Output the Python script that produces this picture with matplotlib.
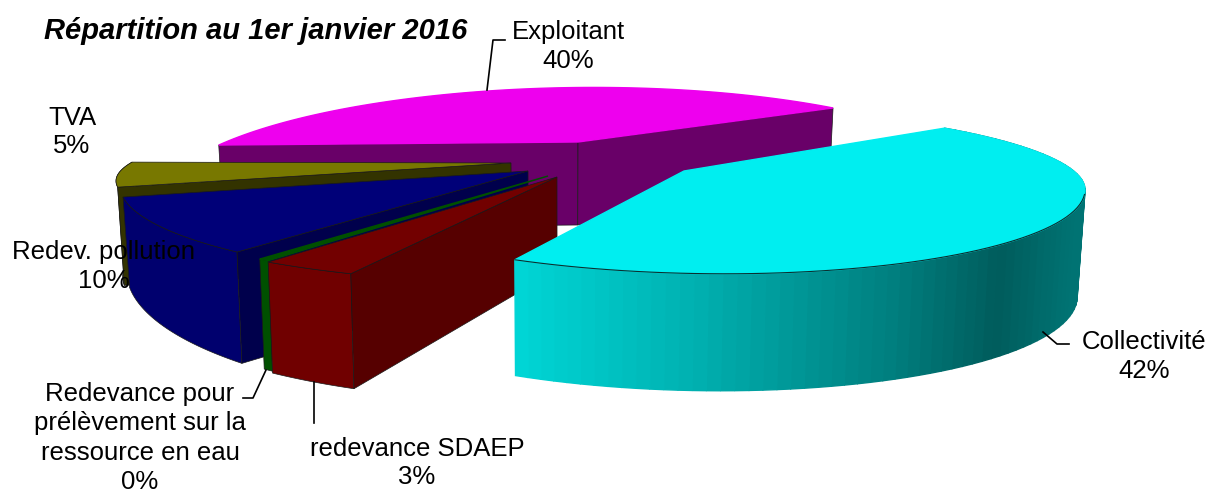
import matplotlib
matplotlib.use('Agg')
import matplotlib.pyplot as plt
import numpy as np

plt.rcParams['font.family'] = ['Liberation Sans', 'DejaVu Sans']

# Shares in clockwise order, drawn back to front further down
names = ['Exploitant', 'Collectivité', 'redevance SDAEP',
         'Redevance pour\nprélèvement sur la\nressource en eau',
         'Redev. pollution', 'TVA']
shares = [40, 42, 3, 0.4, 10, 5]

# Per slice projection of the 3D pie, in pixels
apex = [(578, 142), (684, 171), (557, 177), (548, 176), (528, 171), (511, 163)]
center = [(578, 199.5), (700, 184), (523, 177.5), (530, 177.4), (550, 185.6), (557, 181)]
radius = [(420, 112, 112), (385, 89.6, 77), (430, 105, 105),
          (430, 105, 105), (430, 96.8, 96.8), (441, 70.6, 70.6)]
shear = [-0.01, 0.015, 0, 0, 0, 0]
start_deg = [-148.8, -50.6, 113.6, 127.5, 136.7, 175]
stretch = [0.668, 1.12, 1.18, 1.0, 1.014, 1.14]
depth = [(83, 0, 83), (107, 10, 105), (82, 36, 93), (82, 36, 93), (86, 37, 107), (95, 37, 100)]

top_col = ['#ee00ee', '#00eef0', '#720000', '#005000', '#000078', '#787800']
wall_col = ['#690068', '#00d8d8', '#700000', '#005000', '#00006e', '#555500']
cut_col = ['#690068', None, '#560000', None, '#00004c', '#333300']
edge = '#1a1a1a'

# Shading along the cyan outer wall
shade_x = [515, 700, 800, 900, 1000, 1075]
shade_g = [214, 175, 150, 125, 92, 115]

VANISH_X = 560


def arc(i, n=80):
    a0 = np.radians(start_deg[i])
    a1 = a0 + np.radians(stretch[i] * shares[i] * 3.6)
    phi = np.linspace(a0, a1, n)
    rx, ry_front, ry_back = radius[i]
    x = center[i][0] + rx * np.cos(phi)
    ry = np.where(np.sin(phi) > 0, ry_front, ry_back)
    y = center[i][1] + ry * np.sin(phi) + shear[i] * rx * np.cos(phi)
    return x, y, phi


def lower(i, x, y, phi):
    d0, d1, _ = depth[i]
    return x + (VANISH_X - x) * 0.015, y + d0 + d1 * np.sin(phi)


def lower_apex(i):
    x, y = apex[i]
    return x + (VANISH_X - x) * 0.015, y + depth[i][2]


def quad(ax, pts, color, line=True, z=1):
    ax.fill(*zip(*pts), facecolor=color, edgecolor=edge if line else color,
            linewidth=0.5 if line else 1.0, zorder=z)


fig = plt.figure(figsize=(12.06, 4.94))
ax = fig.add_axes([0, 0, 1, 1])
ax.set_xlim(0, 1206)
ax.set_ylim(494, 0)
ax.axis('off')

# back to front: magenta, olive, blue, green, red, cyan
for z, i in enumerate([0, 5, 4, 3, 2, 1]):
    x, y, phi = arc(i)
    bx, by = lower(i, x, y, phi)
    if i == 1:
        for k in range(len(x) - 1):
            g = np.interp((x[k] + x[k + 1]) / 2, shade_x, shade_g) / 255
            quad(ax, [(x[k], y[k]), (x[k + 1], y[k + 1]), (bx[k + 1], by[k + 1]), (bx[k], by[k])],
                 (0, g, g), line=False, z=z)
    elif i != 0:
        pts = list(zip(x, y)) + list(zip(bx, by))[::-1]
        quad(ax, pts, wall_col[i], z=z)
    if i == 0:
        for k in (0, -1):
            quad(ax, [apex[i], (x[k], y[k]), (bx[k], by[k]), lower_apex(i)], cut_col[i], z=z)
    elif cut_col[i]:
        quad(ax, [apex[i], (x[0], y[0]), (bx[0], by[0]), lower_apex(i)], cut_col[i], z=z)
    quad(ax, [apex[i]] + list(zip(x, y)), top_col[i], line=i in (2, 4, 5), z=z)
    if i == 1:
        ax.plot(x[25:], y[25:], color='#0a3030', lw=0.8, zorder=z)

# Labels
label_pos = [(568, 46.5), (1144, 356.5), (417, 463), (140, 438), (104, 266.5), (72, 132)]
label_space = [1.22, 1.22, 1.22, 1.27, 1.22, 1.22]
for i, (lx, ly) in enumerate(label_pos):
    ax.text(lx, ly, f'{names[i]}\n{round(shares[i])}%', ha='center', va='center',
            fontsize=18.5, linespacing=label_space[i], color='black', zorder=10, clip_on=False)

ax.text(44, 31, 'Répartition au 1er janvier 2016', fontsize=21, fontweight='bold',
        fontstyle='italic', ha='left', va='center', zorder=10)

# Leader lines
leaders = [([487, 493, 505], [90, 40, 40]),
           ([1043, 1057, 1069], [332, 344, 344]),
           ([266, 253, 243], [370, 398, 398]),
           ([314, 314], [382, 423])]
for lx, ly in leaders:
    ax.plot(lx, ly, color='black', lw=1.2, zorder=9)

fig.savefig('out.png', dpi=100)
plt.close(fig)
